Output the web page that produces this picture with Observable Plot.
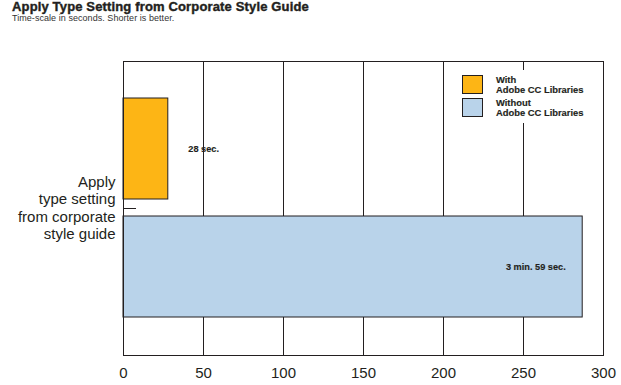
<!DOCTYPE html>
<html>
<head>
<meta charset="utf-8">
<script src="https://cdn.jsdelivr.net/npm/d3@7"></script>
<script src="https://cdn.jsdelivr.net/npm/@observablehq/plot@0.6"></script>
<style>
  html, body { margin: 0; padding: 0; background: white; }
  #wrap { position: relative; width: 621px; height: 385px; overflow: hidden; font-family: "Liberation Sans", Arial, sans-serif; }
  #head { height: 26px; position: relative; }
  #title { position: absolute; left: 12px; top: 0px; line-height: 13px; font-size: 13px; font-weight: bold; color: #231f20; white-space: nowrap; -webkit-text-stroke: 0.4px #231f20; letter-spacing: 0.15px; }
  #subtitle { position: absolute; left: 12px; top: 13px; line-height: 10px; font-size: 9px; color: #333; white-space: nowrap; letter-spacing: 0.05px; }
  #legend { position: absolute; left: 452px; top: 70px; width: 142px; height: 53px; background: white; font-size: 9.4px; font-weight: bold; color: #231f20; line-height: 10px; -webkit-text-stroke: 0.15px #231f20; }
  .item { position: absolute; left: 10px; display: flex; align-items: center; height: 19px; }
  .sw { width: 21px; height: 19px; border: 1px solid #231f20; margin-right: 13px; box-sizing: border-box; flex: none; }
</style>
</head>
<body>
<div id="wrap">
  <div id="head">
    <div id="title">Apply Type Setting from Corporate Style Guide</div>
    <div id="subtitle">Time-scale in seconds. Shorter is better.</div>
  </div>
  <div id="chart"></div>
  <div id="legend"></div>
</div>
<script>
const categories = ["Apply\ntype setting\nfrom corporate\nstyle guide"];
const series = ["With\nAdobe CC Libraries", "Without\nAdobe CC Libraries"];
const seconds = [28, 287];
const valueLabels = ["28 sec.", "3 min. 59 sec."];
const xTicks = [0, 50, 100, 150, 200, 250, 300];
const colors = ["#FDB515", "#B9D3EA"];

const data = series.map((s, i) => ({
  category: categories[0],
  series: s,
  value: seconds[i],
  label: valueLabels[i]
}));

const chart = Plot.plot({
  width: 621,
  height: 359,
  marginTop: 35,
  marginBottom: 30,
  marginLeft: 123,
  marginRight: 18,
  style: { fontFamily: "Liberation Sans, Arial, sans-serif", background: "white", overflow: "visible" },
  x: { domain: [0, 300], ticks: xTicks },
  y: { domain: series, paddingInner: 0.143, paddingOuter: 0.311, axis: null },
  fy: { domain: categories, padding: 0, axis: null },
  color: { domain: series, range: colors },
  marks: [
    Plot.gridX(xTicks, { stroke: "#231f20", strokeOpacity: 1 }),
    Plot.barX(data, { x: "value", y: "series", fy: "category", fill: "series", stroke: "#231f20", strokeWidth: 1 }),
    Plot.frame({ stroke: "#231f20" }),
    Plot.axisX(xTicks, { tickSize: 0, tickPadding: 12, fontSize: 15, fill: "#231f20", label: null }),
    Plot.axisFy({ anchor: "left", tickSize: -13, tickFormat: () => "", label: null, stroke: "#231f20" }),
    Plot.axisFy({ anchor: "left", tickSize: 0, tickPadding: 8, fontSize: 15, lineWidth: 30, lineHeight: 1.17, fill: "#231f20", label: null, dy: -1 }),
    Plot.text(data.filter(d => d.value < 100), { x: "value", y: "series", fy: "category", text: "label", textAnchor: "start", dx: 20, fontWeight: "bold", fontSize: 9.2, fill: "#231f20", stroke: "#231f20", strokeWidth: 0.15 }),
    Plot.text(data.filter(d => d.value >= 100), { x: "value", y: "series", fy: "category", text: "label", textAnchor: "end", dx: -17, fontWeight: "bold", fontSize: 9.2, fill: "#231f20", stroke: "#231f20", strokeWidth: 0.15 })
  ]
});
document.getElementById("chart").appendChild(chart);

const legend = d3.select("#legend");
series.forEach((s, i) => {
  const item = legend.append("div").attr("class", "item").style("top", (5 + i * 23) + "px");
  item.append("div").attr("class", "sw").style("background", colors[i]);
  const t = item.append("div");
  s.split("\n").forEach(line => t.append("div").text(line));
});
</script>
</body>
</html>
